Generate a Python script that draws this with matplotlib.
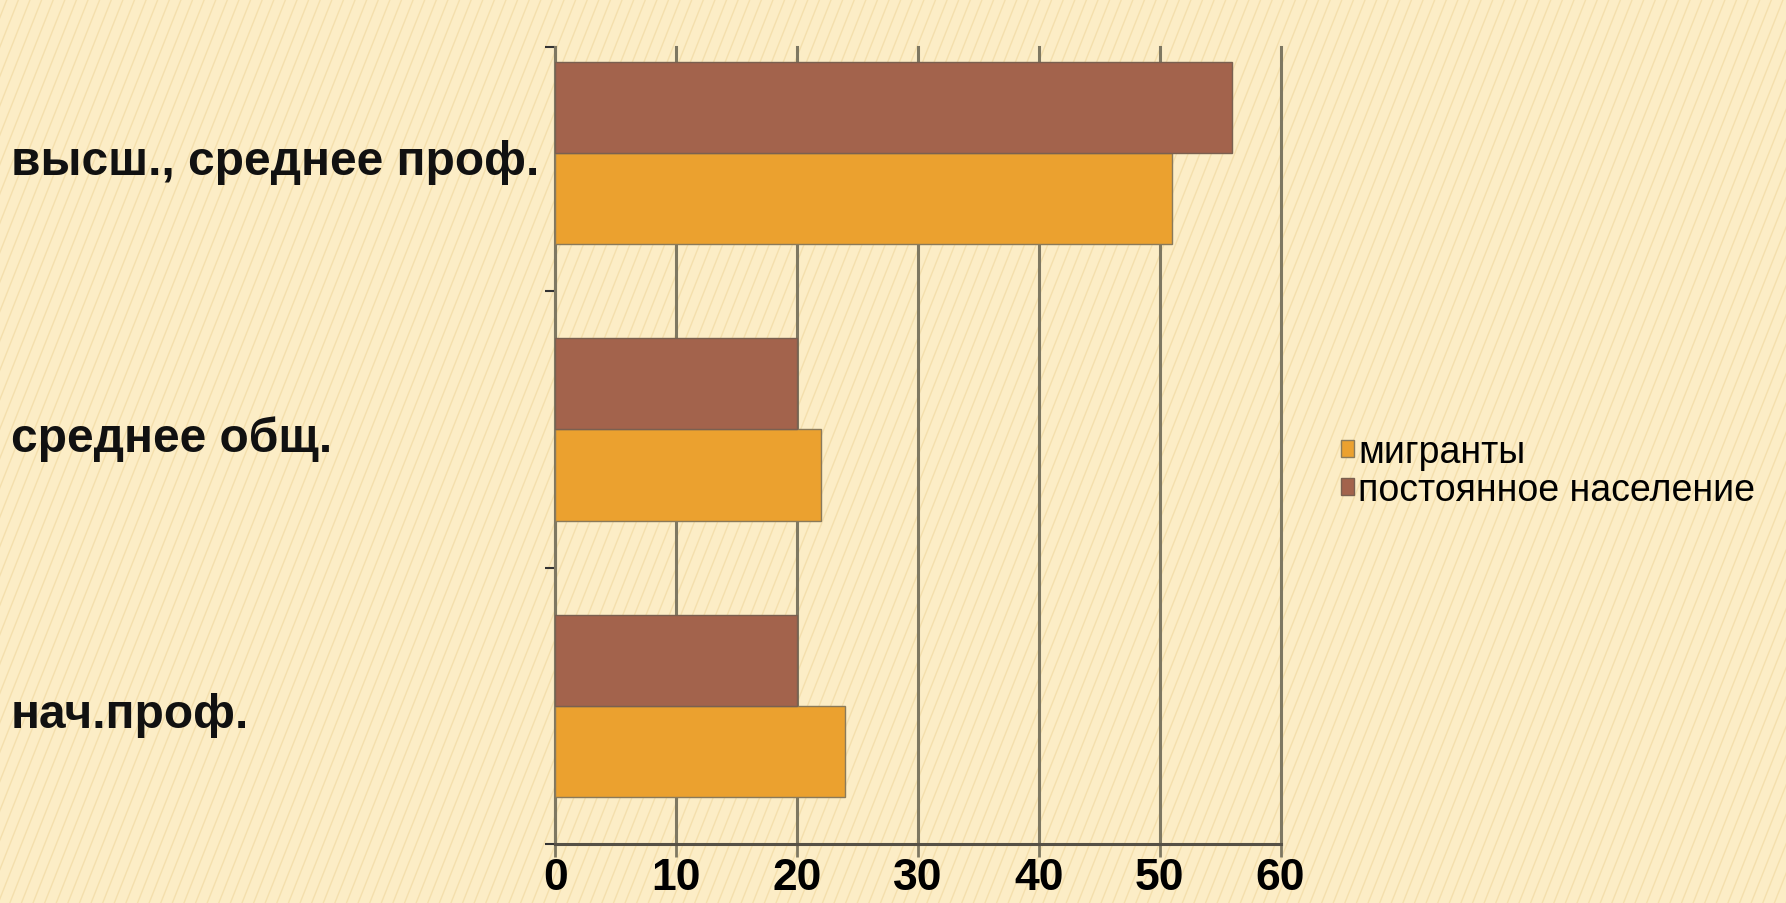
import numpy as np
import matplotlib.pyplot as plt
from matplotlib.transforms import blended_transform_factory

# -----------------------------
# Dados
# -----------------------------
categories = ["нач.проф.", "среднее общ.", "высш., среднее проф."]
migrants = [24, 22, 51]
residents = [20, 20, 56]
series_names = ["мигранты", "постоянное население"]
xticks = [0, 10, 20, 30, 40, 50, 60]

c_migr = "#EBA12F"
c_res = "#A3634C"
c_grid = "#7E7862"
bg = "#FCEDC6"

plt.rcParams["font.family"] = ["Liberation Sans", "DejaVu Sans"]

fig = plt.figure(figsize=(17.86, 9.04), dpi=100, facecolor=bg)

# fundo com listras diagonais (decorativo)
bg_ax = fig.add_axes([0, 0, 1, 1], zorder=-10)
bg_ax.set_xlim(0, 1)
bg_ax.set_ylim(0, 1)
bg_ax.axis("off")
for x0 in np.arange(-0.3, 1.05, 0.0065):
    bg_ax.plot([x0, x0 + 0.2], [0, 1], color="#EFD69C", lw=1.0, alpha=0.6)

ax = fig.add_axes([0.311, 0.065, 0.406, 0.882])
ax.patch.set_visible(False)

y = np.arange(len(categories))
h = 0.33
ax.barh(y - h / 2, migrants, height=h, color=c_migr, edgecolor="#8a7a5a",
        linewidth=1, label=series_names[0], zorder=3)
ax.barh(y + h / 2, residents, height=h, color=c_res, edgecolor="#7a6050",
        linewidth=1, label=series_names[1], zorder=3)

ax.set_xlim(0, 60)
ax.set_ylim(-0.5, len(categories) - 0.617)
ax.set_xticks(xticks)
ax.set_xticklabels([str(v) for v in xticks], fontsize=32, fontweight="bold")
ax.set_yticks(list(np.arange(len(categories)) - 0.5) + [len(categories) - 0.617])
ax.set_yticklabels([])
ax.tick_params(axis="y", length=7, width=1.5, color="#333333")
ax.tick_params(axis="x", length=9, width=2, color=c_grid, pad=0)

ax.grid(axis="x", color=c_grid, lw=2.2, zorder=1)
for gl in ax.get_xgridlines():
    gl.set_clip_on(False)
for s in ["top", "right"]:
    ax.spines[s].set_visible(False)
ax.spines["left"].set_color(c_grid)
ax.spines["left"].set_linewidth(2.2)
ax.spines["bottom"].set_color("#555045")
ax.spines["bottom"].set_linewidth(2.2)

# rótulos das categorias, alinhados à esquerda
tr = blended_transform_factory(fig.transFigure, ax.transData)
for yi, lab in zip(y, categories):
    ax.text(0.006, yi - 0.03, lab, transform=tr, ha="left", va="center",
            fontsize=34.5, fontweight="bold", color="#111111")

ax.legend(loc="center left", bbox_to_anchor=(1.084, 0.468), frameon=False,
          fontsize=27, handlelength=0.33, handleheight=0.33, handletextpad=0.12,
          labelspacing=0.05, borderpad=0, borderaxespad=0)

fig.savefig("out.png", dpi=100, facecolor=bg)
